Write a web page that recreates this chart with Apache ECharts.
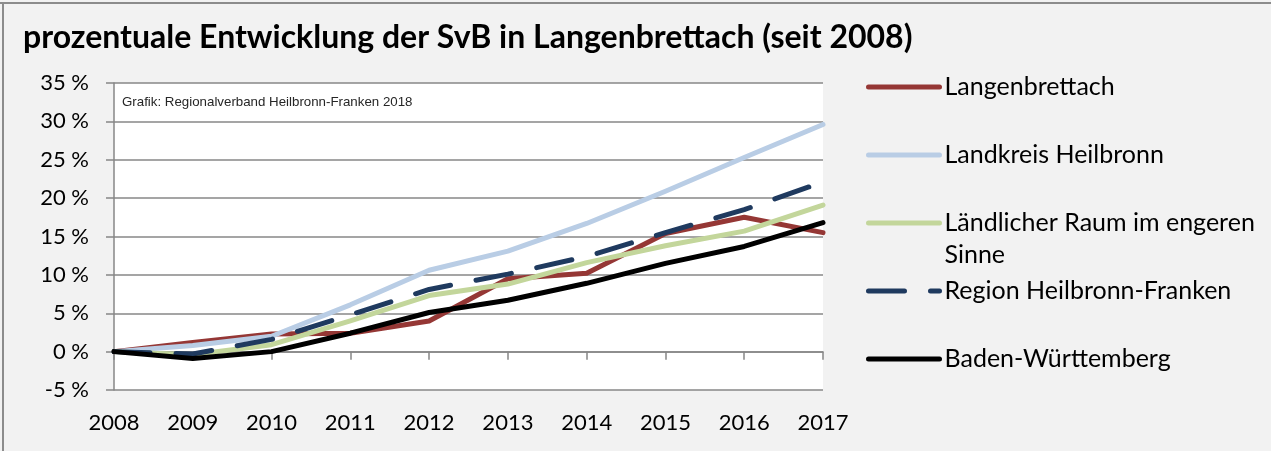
<!DOCTYPE html>
<html>
<head>
<meta charset="utf-8">
<script src="https://cdn.jsdelivr.net/npm/echarts@6/dist/echarts.min.js"></script>
<style>
html,body{margin:0;padding:0;background:#f2f2f2;}
#c{width:1271px;height:451px;}
</style>
</head>
<body>
<div id="c"></div>
<script>
var years = ['2008','2009','2010','2011','2012','2013','2014','2015','2016','2017'];
var langenbrettach = [0, 1.2, 2.3, 2.4, 4.0, 9.5, 10.2, 15.4, 17.5, 15.5];
var landkreis = [0, 0.8, 2.0, 6.1, 10.6, 13.1, 16.7, 20.9, 25.3, 29.6];
var laendlicher = [0, -0.4, 0.9, 4.0, 7.3, 8.8, 11.6, 13.8, 15.7, 19.1];
var region = [0, -0.3, 1.6, 4.8, 8.1, 10.1, 12.4, 15.5, 18.5, 22.1];
var bw = [0, -0.9, 0.0, 2.4, 5.1, 6.7, 8.9, 11.5, 13.7, 16.8];
var names = ['Langenbrettach','Landkreis Heilbronn','Ländlicher Raum im engeren Sinne','Region Heilbronn-Franken','Baden-Württemberg'];
var colors = ['#953735','#b9cde5','#c3d69b','#1f3a5f','#000000'];
var yTicks = {min: -5, max: 35, interval: 5};

var FONT = 'Lato, "Open Sans", sans-serif';
var GRID = '#878787';
var chart = echarts.init(document.getElementById('c'), null, {renderer: 'canvas'});

function mkSeries(i, data, dashed) {
  return {
    name: names[i], type: 'line', data: data, symbol: 'none', smooth: false,
    xAxisIndex: 0, yAxisIndex: 0,
    lineStyle: {color: colors[i], width: 5, cap: 'round', join: 'round', type: dashed ? [36, 26] : 'solid'},
    itemStyle: {color: colors[i]},
    emphasis: {disabled: true}
  };
}

var legendCenters = [87, 155, 223, 291, 359];
var legends = names.map(function (n, i) {
  var isTwo = (i === 2);
  var lh = isTwo ? 32 : 28;
  var h = isTwo ? lh * 3 : lh;
  return {
    data: [n], left: 866, top: legendCenters[i] - h / 2, padding: 0,
    itemWidth: 71, itemHeight: 14, itemGap: 0,
    selectedMode: false,
    itemStyle: {opacity: 0, borderWidth: 0},
    lineStyle: {width: 5, cap: 'round'},
    formatter: isTwo ? function () { return '\nLändlicher Raum im engeren\nSinne'; } : '{name}',
    textStyle: {fontFamily: FONT, fontSize: 25, color: '#000', lineHeight: lh}
  };
});

chart.setOption({
  backgroundColor: '#f2f2f2',
  animation: false,
  title: {
    text: 'prozentuale Entwicklung der SvB in Langenbrettach (seit 2008)',
    left: 23, top: 22, padding: 0,
    textStyle: {fontFamily: FONT, fontWeight: 'bold', fontSize: 32, color: '#000'}
  },
  legend: legends,
  grid: {left: 114, right: 448, top: 83, bottom: 61, show: true, backgroundColor: '#ffffff', borderWidth: 0, containLabel: false},
  xAxis: [{
    type: 'category', data: years, boundaryGap: false,
    axisLine: {onZero: true, lineStyle: {color: GRID, width: 1.5}},
    axisTick: {show: true, length: 8, interval: 0, lineStyle: {color: GRID, width: 1.5}},
    axisLabel: {show: false}, splitLine: {show: false}
  }, {
    type: 'category', data: years, boundaryGap: false, position: 'bottom',
    axisLine: {show: false, onZero: false}, axisTick: {show: false},
    axisLabel: {show: true, interval: 0, fontFamily: FONT, fontSize: 22, color: '#000', margin: 22},
    splitLine: {show: false}
  }],
  yAxis: {
    type: 'value', min: yTicks.min, max: yTicks.max, interval: yTicks.interval,
    axisLine: {show: true, lineStyle: {color: GRID, width: 1.5}},
    axisTick: {show: true, length: 8, lineStyle: {color: GRID, width: 1.5}},
    axisLabel: {formatter: '{value} %', fontFamily: FONT, fontSize: 22, color: '#000', margin: 25},
    splitLine: {show: true, lineStyle: {color: GRID, width: 1.5}}
  },
  graphic: [
    {type: 'line', shape: {x1: 0, y1: 3, x2: 1271, y2: 3}, style: {stroke: '#8c8c8c', lineWidth: 2}, silent: true},
    {type: 'line', shape: {x1: 3, y1: 3, x2: 3, y2: 451}, style: {stroke: '#8c8c8c', lineWidth: 2}, silent: true},
    {type: 'text', left: 122, top: 96, silent: true, z: 10,
     style: {text: 'Grafik: Regionalverband Heilbronn-Franken 2018', font: '13.3px "Liberation Sans", Arial, sans-serif', fill: '#262626'}}
  ],
  series: [
    mkSeries(0, langenbrettach, false),
    mkSeries(1, landkreis, false),
    mkSeries(2, laendlicher, false),
    mkSeries(3, region, true),
    mkSeries(4, bw, false)
  ]
});
</script>
</body>
</html>
